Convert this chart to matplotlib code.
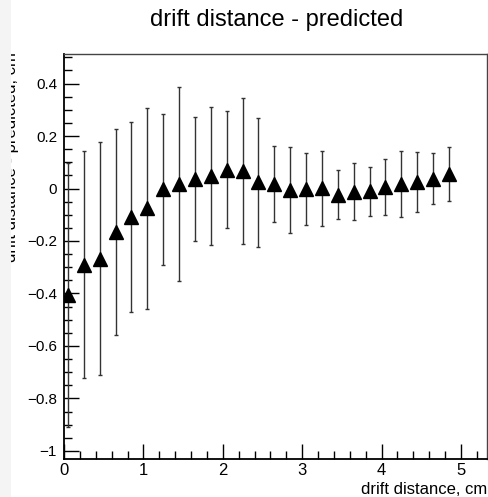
import numpy as np
import matplotlib
matplotlib.use("Agg")
import matplotlib.pyplot as plt
from matplotlib.ticker import MultipleLocator, FuncFormatter
from matplotlib.patches import Rectangle

plt.rcParams['font.family'] = ['Liberation Sans', 'DejaVu Sans']

# bin centres (cm), mean residual and its spread (cm)
x = [0.05, 0.25, 0.45, 0.65, 0.85, 1.05, 1.25, 1.45, 1.65, 1.85,
     2.05, 2.25, 2.45, 2.65, 2.85, 3.05, 3.25, 3.45, 3.65, 3.85,
     4.05, 4.25, 4.45, 4.65, 4.85]
y = [-0.405, -0.290, -0.267, -0.166, -0.110, -0.075, -0.003, 0.017, 0.037, 0.048,
     0.071, 0.066, 0.023, 0.017, -0.005, -0.002, 0.001, -0.023, -0.012, -0.011,
     0.005, 0.017, 0.024, 0.038, 0.054]
err = [0.503, 0.432, 0.443, 0.392, 0.362, 0.383, 0.288, 0.368, 0.237, 0.262,
       0.223, 0.278, 0.244, 0.144, 0.164, 0.137, 0.142, 0.092, 0.109, 0.092,
       0.106, 0.126, 0.114, 0.096, 0.103]

W, H = 489, 497
fig = plt.figure(figsize=(W / 100, H / 100), dpi=100)
ax = fig.add_axes([64 / W, 38 / H, (487.5 - 64) / W, (459 - 54) / H])

ax.errorbar(x, y, yerr=err, fmt='none', ecolor='#333333', elinewidth=1.0,
            capsize=1.5, capthick=1.0, zorder=2)
ax.plot(x, y, linestyle='none', marker='^', markersize=9.5,
        color='black', zorder=3)

ax.set_xlim(0, 5.335)
ax.set_ylim(-1.0305, 0.5124)

ax.xaxis.set_major_locator(MultipleLocator(1))
ax.xaxis.set_minor_locator(MultipleLocator(0.2))
ax.yaxis.set_major_locator(MultipleLocator(0.2))
ax.yaxis.set_minor_locator(MultipleLocator(0.05))


def fmt(v, pos):
    v = round(v, 6)
    s = f"{v:g}"
    return s.replace('-', '\u2212')


ax.xaxis.set_major_formatter(FuncFormatter(fmt))
ax.yaxis.set_major_formatter(FuncFormatter(fmt))

ax.tick_params(which='both', direction='in', top=False, right=False,
               color='black')
ax.tick_params(which='major', length=11, width=1)
ax.tick_params(which='minor', length=6, width=1)
ax.tick_params(axis='y', pad=5, labelsize=11)
ax.tick_params(axis='x', pad=3, labelsize=12)

for side in ['left', 'bottom']:
    ax.spines[side].set_linewidth(1.3)
for side in ['top', 'right']:
    ax.spines[side].set_linewidth(1.0)
    ax.spines[side].set_color('#444444')

fig.text(487 / W, 1 - 494 / H, 'drift distance, cm', ha='right',
         va='baseline', fontsize=12)

fig.text(19 / W, 1 - 52 / H, 'drift distance - predicted, cm', rotation=90,
         ha='right', va='top', fontsize=12)

fig.text(277 / W, 1 - 20 / H, 'drift distance - predicted', ha='center',
         va='center', fontsize=17)

fig.patches.append(Rectangle((0, 0), 11 / W, 1, transform=fig.transFigure,
                             facecolor='#f4f4f4', edgecolor='none', zorder=5))

fig.savefig('out.png', dpi=100, facecolor='white')
